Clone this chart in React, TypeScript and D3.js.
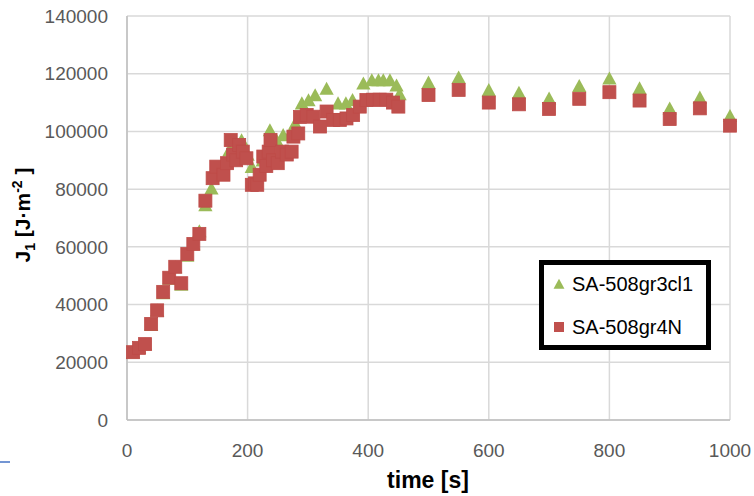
import React from "react";
import * as d3 from "d3";

// SA-508gr3cl1 (triangles)
const greenTimes = [
  10, 20, 30, 40, 50, 60, 70, 80, 90, 100, 110, 120, 130, 140, 150, 160, 170,
  180, 190, 200, 207, 215, 225, 237, 248, 259, 270, 279, 290, 301, 312, 331,
  350, 363, 374, 392, 406, 417, 425, 436, 447, 452, 500, 550, 600, 650, 700,
  750, 800, 850, 900, 950, 1000,
];
const greenValues = [
  23500, 25000, 26300, 33000, 38000, 44000, 49000, 53000, 47000, 57000, 61000,
  65500, 74500, 80300, 86000, 89000, 93600, 95000, 97000, 92000, 87800, 84000,
  90000, 100500, 97000, 98800, 99000, 102800, 109800, 110900, 112600, 114900,
  109800, 109800, 111000, 116700, 117800, 117800, 117800, 117800, 116000,
  113000, 117000, 118800, 114400, 113500, 111500, 115800, 118400, 115000,
  108000, 111800, 105400,
];

// SA-508gr4N (squares)
const redTimes = [
  10, 20, 30, 40, 50, 60, 70, 80, 90, 100, 110, 120, 130, 142, 148, 160, 166,
  172, 176, 181, 186, 192, 198, 207, 212, 216, 220, 226, 231, 235, 238, 242,
  250, 257, 265, 273, 276, 284, 287, 298, 309, 320, 331, 342, 353, 364, 375,
  386, 397, 408, 419, 430, 441, 450, 500, 550, 600, 650, 700, 750, 800, 850,
  900, 950, 1000,
];
const redValues = [
  23500, 25000, 26300, 33300, 38000, 44400, 49300, 53100, 47400, 57500, 61000,
  64500, 76000, 83800, 87800, 85000, 89000, 97000, 92000, 90000, 95300, 93000,
  90700, 81500, 82000, 81500, 85000, 91300, 88000, 93000, 97000, 90000, 89000,
  93000, 92000, 93000, 98200, 99300, 105000, 105700, 105100, 101700, 106900,
  104000, 104000, 104500, 105700, 108600, 110900, 111000, 111000, 111000,
  110000, 108600, 112600, 114400, 110000, 109400, 107800, 111300, 113600,
  110700, 104300, 108000, 102000,
];

const xTicks = [0, 200, 400, 600, 800, 1000];
const yTicks = [0, 20000, 40000, 60000, 80000, 100000, 120000, 140000];
const seriesNames = ["SA-508gr3cl1", "SA-508gr4N"];

const W = 754;
const H = 496;
const GREEN = "#9BBB59";
const RED = "#C0504D";
const FONT = "'Liberation Sans', Arial, sans-serif";

const tri = (s: number) => `M0,${-s}L${s * 1.05},${s * 0.92}L${-s * 1.05},${s * 0.92}Z`;

export default function App() {
  const x = d3.scaleLinear().domain([0, 1000]).range([127, 730]);
  const y = d3.scaleLinear().domain([0, 140000]).range([420, 16]);

  const green = greenTimes.map((t, i) => ({ t, v: greenValues[i] }));
  const red = redTimes.map((t, i) => ({ t, v: redValues[i] }));

  return (
    <svg
      width={W}
      height={H}
      style={{ position: "absolute", left: 0, top: 0, background: "#fff" }}
      fontFamily={FONT}
    >
      {/* grid */}
      {yTicks.map((d) => (
        <line key={"gy" + d} x1={x(0)} x2={x(1000)} y1={y(d)} y2={y(d)} stroke="#D9D9D9" strokeWidth={1.5} />
      ))}
      {xTicks.map((d) => (
        <line key={"gx" + d} x1={x(d)} x2={x(d)} y1={y(0)} y2={y(140000)} stroke="#D9D9D9" strokeWidth={1.5} />
      ))}
      {/* axes */}
      <line x1={x(0)} x2={x(1000)} y1={y(0)} y2={y(0)} stroke="#BFBFBF" strokeWidth={1.5} />
      <line x1={x(0)} x2={x(0)} y1={y(0)} y2={y(140000)} stroke="#BFBFBF" strokeWidth={1.5} />

      {yTicks.map((d) => (
        <text key={"ty" + d} x={108} y={y(d)} dy="0.35em" textAnchor="end" fontSize={19} fill="#595959">
          {d}
        </text>
      ))}
      {xTicks.map((d) => (
        <text key={"tx" + d} x={x(d)} y={450} dy="0.35em" textAnchor="middle" fontSize={19} fill="#595959">
          {d}
        </text>
      ))}

      <text x={428} y={480} dy="0.35em" textAnchor="middle" fontSize={23} fontWeight="bold" fill="#000">
        time [s]
      </text>
      <text
        transform="translate(23,215) rotate(-90)"
        textAnchor="middle"
        dy="0.35em"
        fontSize={21}
        fontWeight="bold"
        fill="#000"
      >
        J<tspan fontSize={14} dy="5">1</tspan>
        <tspan dy="-5"> [J·m</tspan>
        <tspan fontSize={14} dy="-8">-2</tspan>
        <tspan dy="8"> ]</tspan>
      </text>

      {/* series */}
      <g fill={GREEN}>
        {green.map((d, i) => (
          <path key={"g" + i} d={tri(6.8)} transform={`translate(${x(d.t)},${y(d.v)})`} />
        ))}
      </g>
      <g fill={RED} stroke="#BE4B48" strokeWidth={0.8}>
        {red.map((d, i) => (
          <rect key={"r" + i} x={x(d.t) - 6.5} y={y(d.v) - 6.5} width={13} height={13} />
        ))}
      </g>

      {/* legend */}
      <rect x={541.5} y={262.5} width={167} height={85} fill="#fff" stroke="#000" strokeWidth={5} />
      <path d={tri(5.2)} transform="translate(559,284)" fill={GREEN} />
      <text x={572} y={284} dy="0.35em" fontSize={20} fill="#000">
        {seriesNames[0]}
      </text>
      <rect x={554} y={322} width={10} height={10} fill={RED} />
      <text x={572} y={327} dy="0.35em" fontSize={20} fill="#000">
        {seriesNames[1]}
      </text>

      <line x1={0} x2={10} y1={462} y2={462} stroke="#4472C4" strokeWidth={1.5} />
    </svg>
  );
}
